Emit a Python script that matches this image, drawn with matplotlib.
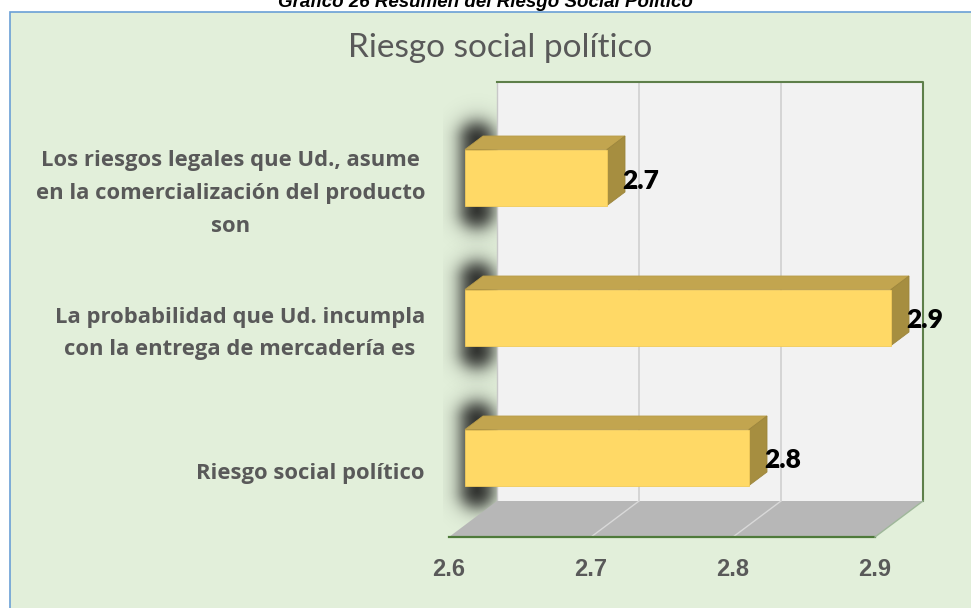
import numpy as np
import matplotlib
matplotlib.use('Agg')
import matplotlib.pyplot as plt
from matplotlib.patches import Polygon, Rectangle

# data, listed top to bottom as in the chart
categories = ['Los riesgos legales que Ud., asume\nen la comercialización del producto\nson',
              'La probabilidad que Ud. incumpla\ncon la entrega de mercadería es',
              'Riesgo social político']
values = [2.7, 2.9, 2.8]
ticks = [2.6, 2.7, 2.8, 2.9]
labels = ['2.7', '2.9', '2.8']

W, H = 971, 608
X0, PXU = 449, 1420.0      # pixel of 2.6 on the front edge, pixels per value unit
Y0, PYU = 469.5, 140.0     # pixel of category 0 on the front plane, pixels per category
DX, DY = 48 / PXU, 36 / PYU  # oblique depth vector (full depth)
VMIN, VMAX = ticks[0], ticks[-1]


def P(v, y, d):
    return (v + d * DX, y + d * DY)


fig = plt.figure(figsize=(W / 100, H / 100), dpi=100)
fig.patch.set_facecolor('white')
ax = fig.add_axes([0, 0, 1, 1])
ax.axis('off')
ax.set_zorder(2)

# chart area box
box = Rectangle((10 / W, -0.01), 1, 1 + 0.01 - 12 / H, transform=fig.transFigure,
                facecolor='#E2EFDA', edgecolor='#6A9FD6', lw=1.2, zorder=1)
fig.patches.append(box)
fig.text(0.5, 1 - 7 / H, 'Gráfico 26 Resumen del Riesgo Social Político', ha='center',
         va='baseline', fontsize=13.5, fontweight='bold', fontstyle='italic',
         family='Liberation Sans', color='black')

n = len(categories)
ypos = [n - 1 - k for k in range(n)]
yf = (Y0 - 537) / PYU          # floor level
ytop = (Y0 - 118) / PYU        # wall top (front reference)

h = 0.2
d0, d1 = 1 / 3, 34 / 48

# blurred shadows at the left end of each bar (behind the wall)
sw, sh = 70, 170
gx, gy = np.meshgrid(np.arange(sw) + 0.5, np.arange(sh) + 0.5)
cx, cy, hx, hy, r = 34, 83, 16, 52, 16
qx = np.abs(gx - cx) - (hx - r)
qy = np.abs(gy - cy) - (hy - r)
sd = np.hypot(np.maximum(qx, 0), np.maximum(qy, 0)) + np.minimum(np.maximum(qx, qy), 0) - r
shadow = np.zeros((sh, sw, 4))
shadow[..., :3] = 0.08
shadow[..., 3] = 0.9 / (1 + np.exp(sd / 5.5))
for y in ypos:
    yc = y + d0 * DY
    ext = [VMIN + (443 - X0) / PXU, VMIN + (443 + sw - X0) / PXU,
           yc - (sh / 2) / PYU, yc + (sh / 2) / PYU]
    ax.imshow(shadow, extent=ext, aspect='auto', interpolation='bilinear', zorder=0.5)

# back wall
wall = [P(VMIN, yf, 1), P(VMAX, yf, 1), P(VMAX, ytop, 1), P(VMIN, ytop, 1)]
ax.add_patch(Polygon(wall, closed=True, facecolor='#F2F2F2', edgecolor='none', zorder=1))
for t in ticks[1:-1]:
    ax.plot(*zip(P(t, yf, 1), P(t, ytop, 1)), color='#D0D0D0', lw=1.2, zorder=2)
ax.plot(*zip(P(VMIN, yf, 1), P(VMIN, ytop, 1)), color='#C8C8C8', lw=1, zorder=2)
ax.plot(*zip(P(VMIN, ytop, 1), P(VMAX, ytop, 1), P(VMAX, yf, 1)), color='#5E7F4A', lw=1.5, zorder=2)

# floor
floor = [P(VMIN, yf, 0), P(VMAX, yf, 0), P(VMAX, yf, 1), P(VMIN, yf, 1)]
ax.add_patch(Polygon(floor, closed=True, facecolor='#B7B7B7', edgecolor='none', zorder=2))
for t in ticks[1:-1]:
    ax.plot(*zip(P(t, yf, 0), P(t, yf, 1)), color='#D9D9D9', lw=1, zorder=3)
ax.plot(*zip(P(VMIN, yf, 0), P(VMAX, yf, 0)), color='#4E7A3A', lw=1.6, zorder=3)
ax.plot(*zip(P(VMAX, yf, 0), P(VMAX, yf, 1)), color='#9FB79A', lw=1, zorder=3)

# bars
for y, v in zip(ypos, values):
    front = [P(VMIN, y - h, d0), P(v, y - h, d0), P(v, y + h, d0), P(VMIN, y + h, d0)]
    top = [P(VMIN, y + h, d0), P(v, y + h, d0), P(v, y + h, d1), P(VMIN, y + h, d1)]
    side = [P(v, y - h, d0), P(v, y + h, d0), P(v, y + h, d1), P(v, y - h, d1)]
    ax.add_patch(Polygon(top, closed=True, facecolor='#C2A54F', edgecolor='#B89C48', lw=0.6, zorder=5))
    ax.add_patch(Polygon(side, closed=True, facecolor='#A68E40', edgecolor='#9C853C', lw=0.6, zorder=5))
    ax.add_patch(Polygon(front, closed=True, facecolor='#FFD966', edgecolor='#F2CB5A', lw=0.6, zorder=6))

for y, v, lab in zip(ypos, values, labels):
    lx, ly = P(v, y, d0)
    ax.text(lx + 15 / PXU, ly - 3 / PYU, lab, ha='left', va='center', fontsize=19,
            fontweight='heavy', family='Lato', color='black', zorder=7)

# category labels
for y, c in zip(ypos, categories):
    ax.text(VMIN - 24 / PXU, y - 4 / PYU, c, ha='right', va='center', multialignment='center',
            fontsize=15.8, fontweight='bold', family='Open Sans', color='#595959',
            linespacing=1.72, zorder=7)

# value axis tick labels
for t in ticks:
    ax.text(t, yf - 33 / PYU, f'{t:.1f}', ha='center', va='center', fontsize=17,
            fontweight='bold', family='Liberation Sans', color='#595959', zorder=7)

ax.text(VMIN + (500 - X0) / PXU, (Y0 - 48) / PYU, 'Riesgo social político', ha='center',
        va='center', fontsize=24, family='Lato', color='#595959', zorder=7)

ax.set_xlim(VMIN - X0 / PXU, VMIN + (W - X0) / PXU)
ax.set_ylim((Y0 - H) / PYU, Y0 / PYU)

fig.savefig('out.png', dpi=100)
